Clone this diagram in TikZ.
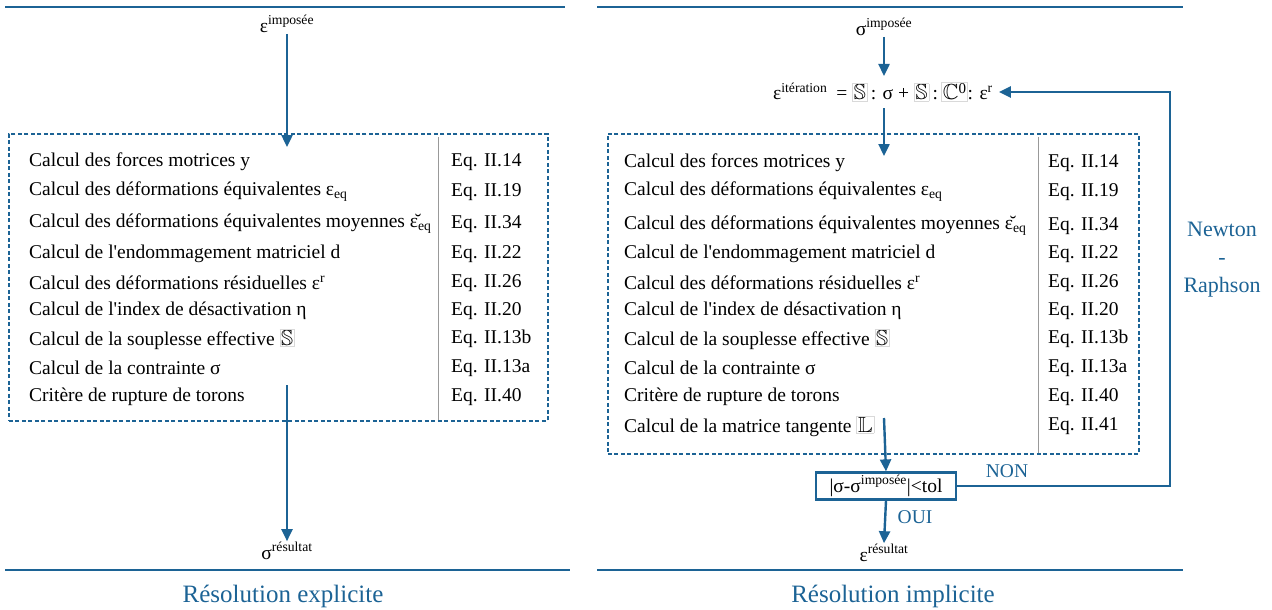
\documentclass[tikz,border=0pt]{standalone}
\usepackage{amssymb}
\usepackage{fontspec}
\setmainfont{Liberation Serif}
\usetikzlibrary{arrows.meta}
\definecolor{bl}{HTML}{1C6395}
\newcommand\gbx[1]{{\setlength\fboxsep{1pt}\setlength\fboxrule{0.6pt}\fcolorbox{gray!30}{white}{#1}}}
\newcommand\bbS{\gbx{\resizebox{!}{15pt}{$\mathbb{S}$}}}
\newcommand\bbL{\gbx{\resizebox{!}{15pt}{$\mathbb{L}$}}}
\newcommand\bbC{\gbx{\resizebox{!}{15pt}{$\mathbb{C}$}\raisebox{6pt}{\fontsize{15}{15}\selectfont 0}}}
\begin{document}
\begin{tikzpicture}[x=1pt,y=-1pt,
  txt/.style={anchor=west, inner sep=0pt, font=\fontsize{19.5}{22}\selectfont},
  lbl/.style={inner sep=1pt, font=\fontsize{19.5}{22}\selectfont},
  blt/.style={text=bl, inner sep=1pt, font=\fontsize{19.5}{22}\selectfont},
  title/.style={text=bl, inner sep=0pt, font=\fontsize{25}{28}\selectfont},
  arr/.style={draw=bl, line width=2.4pt, -{Triangle[length=12pt,width=11pt]}},
  sep/.style={draw=bl, line width=2.4pt},
  dbox/.style={draw=bl, line width=1.7pt, dash pattern=on 4pt off 2.5pt, anchor=north west, inner sep=0pt},
  gline/.style={draw=gray!80, line width=1pt}]
\useasboundingbox (0,0) rectangle (1272,610);
% separators
\draw[sep] (5,7) -- (565,7);
\draw[sep] (5,570) -- (570,570);
\draw[sep] (597,7) -- (1183,7);
\draw[sep] (597,570) -- (1183,570);
\node[title] (T1) at (283,596) {Résolution explicite};
\node[title] (T2) at (893,596) {Résolution implicite};

% ---------- left ----------
\node[lbl] (Limp) at (287,24) {ε\textsuperscript{imposée}};
\node[dbox, minimum width=539pt, minimum height=287pt] (BL) at (8,133) {};
\draw[gline] (438,137) -- (438,420);
\foreach \t/\e/\y [count=\i] in {
  {Calcul des forces motrices y}/{Eq. II.14}/162,
  {Calcul des déformations équivalentes ε\textsubscript{eq}}/{Eq. II.19}/192,
  {Calcul des déformations équivalentes moyennes ε̆\textsubscript{eq}}/{Eq. II.34}/224,
  {Calcul de l\textquotesingle endommagement matriciel d}/{Eq. II.22}/254,
  {Calcul des déformations résiduelles ε\textsuperscript{r}}/{Eq. II.26}/283,
  {Calcul de l\textquotesingle index de désactivation η}/{Eq. II.20}/311,
  {Calcul de la souplesse effective \bbS}/{Eq. II.13b}/339,
  {Calcul de la contrainte σ}/{Eq. II.13a}/368,
  {Critère de rupture de torons}/{Eq. II.40}/397}{
  \node[txt] (L\i) at (29,\y) {\t};
  \node[txt] (LE\i) at (451,\y) {\e};
}
\coordinate (Lin) at (287,147);
\coordinate (Lst) at (287,385);
\node[lbl] (Lres) at (287,551) {σ\textsuperscript{résultat}};
\draw[arr] (Limp.south) -- (Lin);
\draw[arr] (Lst) -- (Lres.north);

% ---------- right ----------
\node[lbl] (Rimp) at (884,27) {σ\textsuperscript{imposée}};
\node[txt] (Req) at (773,92) {ε\textsuperscript{itération}\hspace{9pt}= \bbS\,: σ + \bbS\,:\,\bbC: ε\textsuperscript{r}};
\draw[arr] (Rimp.south) -- (884,76);
\node[dbox, minimum width=531pt, minimum height=320pt] (BR) at (607,133) {};
\draw[gline] (1038,137) -- (1038,453);
\foreach \t/\e/\y [count=\i] in {
  {Calcul des forces motrices y}/{Eq. II.14}/163,
  {Calcul des déformations équivalentes ε\textsubscript{eq}}/{Eq. II.19}/192,
  {Calcul des déformations équivalentes moyennes ε̆\textsubscript{eq}}/{Eq. II.34}/226,
  {Calcul de l\textquotesingle endommagement matriciel d}/{Eq. II.22}/254,
  {Calcul des déformations résiduelles ε\textsuperscript{r}}/{Eq. II.26}/283,
  {Calcul de l\textquotesingle index de désactivation η}/{Eq. II.20}/311,
  {Calcul de la souplesse effective \bbS}/{Eq. II.13b}/339,
  {Calcul de la contrainte σ}/{Eq. II.13a}/368,
  {Critère de rupture de torons}/{Eq. II.40}/397,
  {Calcul de la matrice tangente \bbL}/{Eq. II.41}/426}{
  \node[txt] (R\i) at (624,\y) {\t};
  \node[txt] (RE\i) at (1048,\y) {\e};
}
\coordinate (Rin) at (884,156);
\coordinate (Rst) at (884,418);
\coordinate (Reqs) at (884,108);
\draw[arr] (Reqs) -- (Rin);
\node[draw=bl, line width=2.2pt, minimum width=140pt, minimum height=27pt, inner sep=2pt,
  font=\fontsize{19.5}{22}\selectfont] (tol) at (886,486) {|σ-σ\textsuperscript{imposée}|<tol};
\draw[arr] (Rst) -- (tol.north);
\coordinate (c1) at (1170,486);
\coordinate (c2) at (1170,92);
\draw[arr] (tol.east) -- (c1) -- (c2) -- ([xshift=6pt]Req.east);
\node[blt] (non) at (1007,471) {NON};
\node[lbl] (Rres) at (884,553) {ε\textsuperscript{résultat}};
\draw[arr] (tol.south) -- (Rres.north);
\node[blt] (oui) at (915,517) {OUI};
\node[text=bl, align=center, inner sep=0pt, font=\fontsize{22}{28}\selectfont] (NR) at (1222,260) {Newton\\-\\Raphson};
\end{tikzpicture}
\end{document}
